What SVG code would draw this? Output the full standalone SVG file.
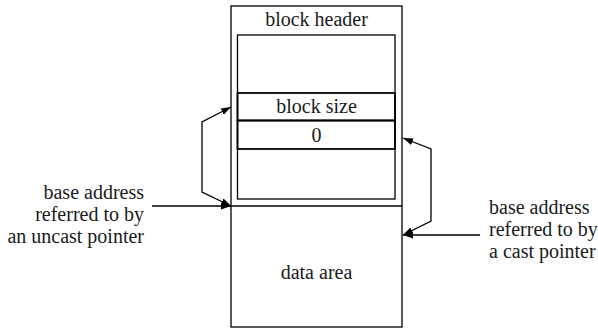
<svg xmlns="http://www.w3.org/2000/svg" width="598" height="328" viewBox="0 0 598 328">
<style>
text{font-family:"Liberation Serif","Times New Roman","DejaVu Serif",serif;font-size:20px;fill:#1a1a1a}
.box{fill:none;stroke:#000;stroke-width:1.3}
.thick{fill:none;stroke:#000;stroke-width:1.8}
.conn{fill:none;stroke:#000;stroke-width:1.3}
</style>
<defs>
<marker id="ah" viewBox="0 0 10 10" refX="10" refY="5" markerWidth="10" markerHeight="10" markerUnits="userSpaceOnUse" orient="auto-start-reverse">
<path d="M0,1.5 L10,5 L0,8.5 z" fill="#000"/>
</marker>
</defs>
<g id="block">
<rect class="box" x="231" y="6" width="171" height="321"/>
<text x="316.5" y="26" text-anchor="middle" font-family="Liberation Serif, serif">block header</text>
<line class="box" x1="231" y1="206" x2="402" y2="206"/>
</g>
<g id="header-inner">
<rect class="box" x="237.5" y="35" width="157.5" height="164"/>
</g>
<g id="block-size">
<rect class="thick" x="237.5" y="93" width="157.5" height="27.5"/>
<text x="316.5" y="113" text-anchor="middle">block size</text>
</g>
<g id="zero">
<rect class="thick" x="237.5" y="120.5" width="157.5" height="28.5"/>
<text x="316.5" y="142" text-anchor="middle">0</text>
</g>
<g id="data-area">
<text x="316.5" y="279" text-anchor="middle">data area</text>
</g>
<g id="label-uncast">
<text x="144" y="199" text-anchor="end">base address</text>
<text x="144" y="221" text-anchor="end">referred to by</text>
<text x="144" y="243" text-anchor="end">an uncast pointer</text>
</g>
<g id="label-cast">
<text x="489" y="214">base address</text>
<text x="489" y="236">referred to by</text>
<text x="489" y="258">a cast pointer</text>
</g>
<g id="connectors">
<line class="conn" x1="152" y1="206" x2="231" y2="206" marker-end="url(#ah)"/>
<path class="conn" d="M231,107 L202,122 L202,192 L231,206" marker-start="url(#ah)" marker-end="url(#ah)"/>
<line class="conn" x1="480" y1="235" x2="403" y2="235" marker-end="url(#ah)"/>
<path class="conn" d="M403,138 L431,149 L431,221 L403,235" marker-start="url(#ah)" marker-end="url(#ah)"/>
</g>
</svg>
